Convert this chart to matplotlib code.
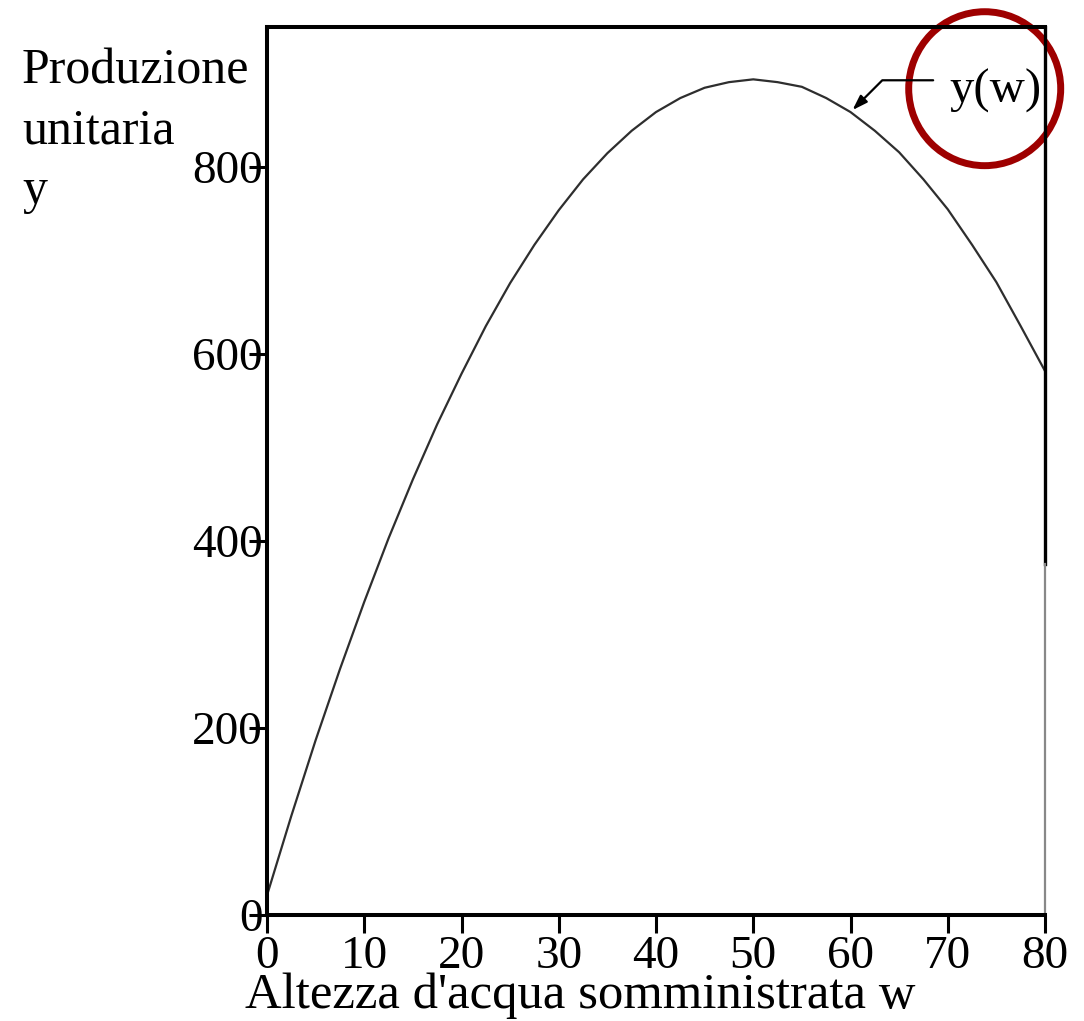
import matplotlib
matplotlib.use("Agg")
import matplotlib.pyplot as plt
from matplotlib.patches import Ellipse

# Data
w_values = [0, 2.5, 5, 7.5, 10, 12.5, 15, 17.5, 20, 22.5, 25, 27.5, 30, 32.5, 35, 37.5, 40,
            42.5, 45, 47.5, 50, 52.5, 55, 57.5, 60, 62.5, 65, 67.5, 70, 72.5, 75, 77.5, 80]
y_values = [21, 106, 187, 263, 335, 403, 466, 525, 579, 630, 676, 717, 754, 787, 815, 839, 859,
            874, 885, 891, 894, 891, 886, 874, 859, 839, 816, 787, 755, 717, 677, 630, 582]
x_ticks = [0, 10, 20, 30, 40, 50, 60, 70, 80]
y_ticks = [0, 200, 400, 600, 800]
curve_label = "y(w)"
x_label = "Altezza d'acqua somministrata w"
y_label_lines = ["Produzione", "unitaria", "y"]

plt.rcParams['font.family'] = ['Liberation Serif', 'DejaVu Serif']

fig = plt.figure(figsize=(10.84, 10.21), dpi=100)
ax = fig.add_axes([267/1084, 1 - 915/1021, (1045-267)/1084, (915-27)/1021])

ax.plot(w_values, y_values, color='#2e2e2e', lw=1.6, solid_capstyle='round', solid_joinstyle='round')

ax.set_xlim(0, 80)
ax.set_ylim(0, 950)
ax.set_xticks(x_ticks)
ax.set_yticks(y_ticks)
ax.tick_params(axis='both', direction='out', length=13, width=2.2, labelsize=34, colors='black')
ax.tick_params(axis='y', pad=-10)
ax.tick_params(axis='x', pad=2)

for s in ['left', 'top', 'bottom']:
    ax.spines[s].set_linewidth(2.9)
    ax.spines[s].set_color('black')
ax.spines['right'].set_visible(False)
split = 376 / 950
ax.axvline(80, ymin=split, ymax=1, color='black', lw=2.4, clip_on=False)
ax.axvline(80, ymin=0, ymax=split, color='#888888', lw=1.6, clip_on=False)

# label with leader arrow
ax.annotate('', xy=(w_values[24], y_values[24]), xytext=(68.5, 893),
            arrowprops=dict(arrowstyle='-|>,head_length=0.9,head_width=0.3', color='black', lw=1.6,
                            connectionstyle='angle,angleA=0,angleB=45,rad=0',
                            shrinkA=0, shrinkB=2))
ax.text(70.2, 882, curve_label, fontsize=35, ha='left', va='center')
ax.add_patch(Ellipse((73.8, 884), width=152/9.725, height=154/0.935, fill=False,
                     edgecolor='#9e0000', lw=5, clip_on=False))

fig.text(245/1084, 1 - 1008/1021, x_label, fontsize=36.5, ha='left', va='baseline')
for i, line in enumerate(y_label_lines):
    fig.text(22/1084, 1 - (83 + 60 * i)/1021, line, fontsize=36, ha='left', va='baseline')

fig.savefig('out.png', dpi=100)
